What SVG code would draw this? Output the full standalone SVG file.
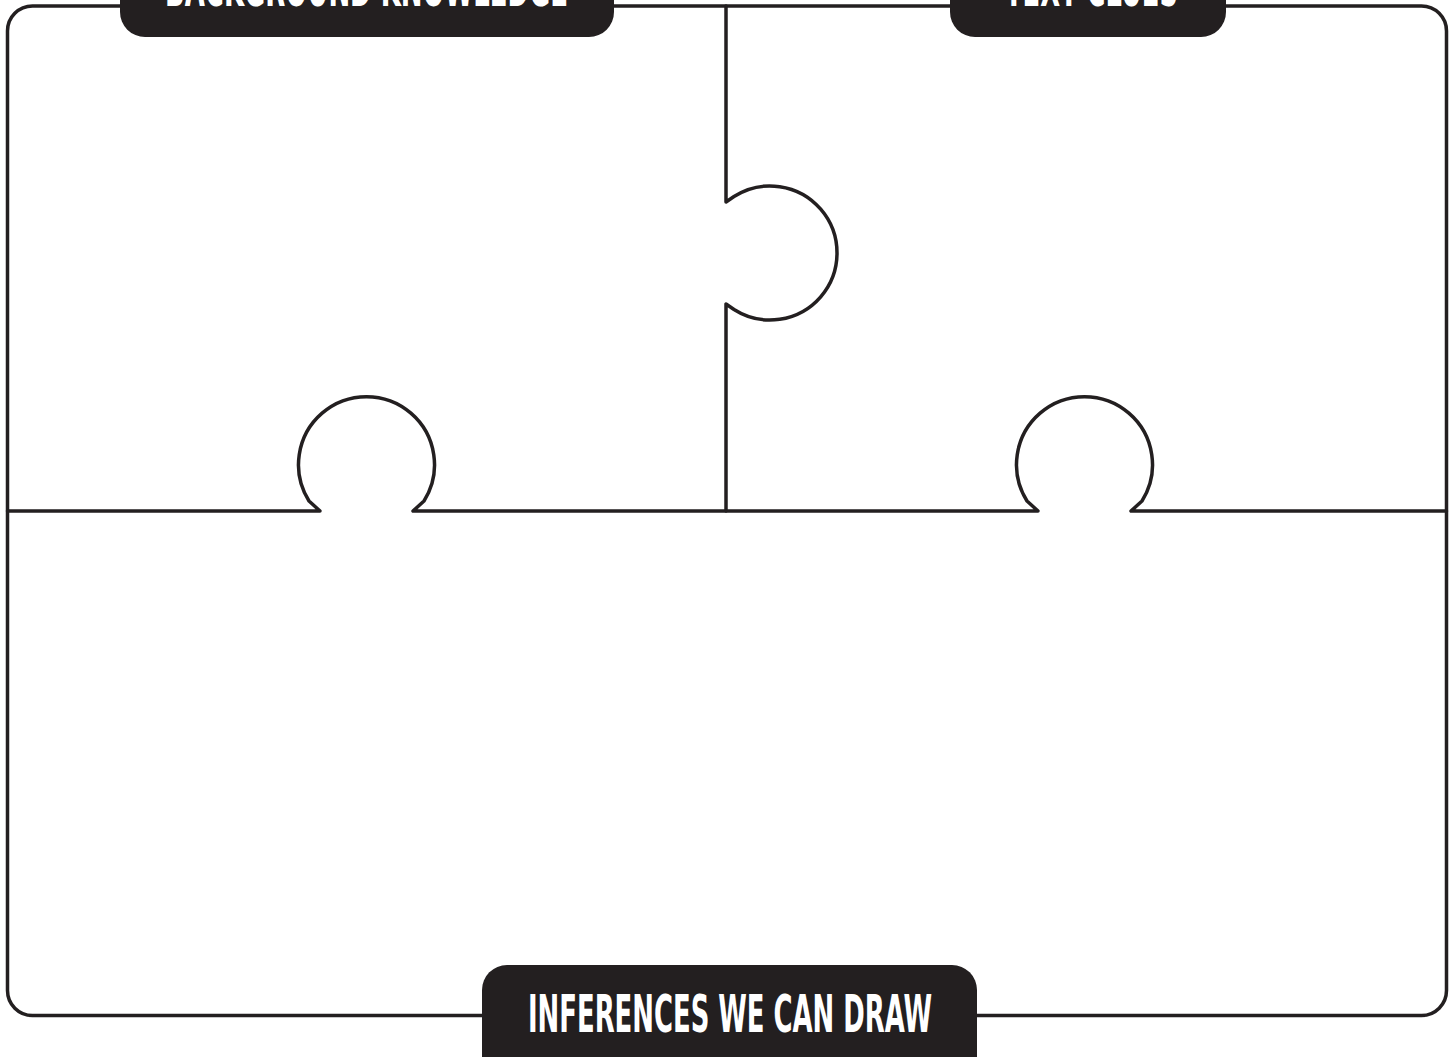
<svg xmlns="http://www.w3.org/2000/svg" width="1453" height="1057" viewBox="0 0 1453 1057">
<style>
.ln{fill:none;stroke:#231f20;stroke-width:3.5;stroke-linejoin:round;stroke-linecap:round}
.tag{fill:#231f20}
.lbl{fill:#ffffff;font-family:"DejaVu Sans Condensed","DejaVu Sans","Liberation Sans",sans-serif;font-weight:bold;font-size:52px;font-stretch:condensed}
</style>
<rect width="1453" height="1057" fill="#ffffff"/>
<g id="connectors">
<rect class="ln" x="7.5" y="6" width="1439" height="1009.5" rx="25" ry="25"/>
<path class="ln" d="M726,6 V202 L734,196.5 A67,67 0 1 1 734,309.5 L726,304 V511"/>
<path class="ln" d="M7.5,511 H320 L309,501 A68,68 0 1 1 424,501 L413,511 H1038 L1027,501 A68,68 0 1 1 1142,501 L1131,511 H1446.5"/>
</g>
<g id="node-background-knowledge">
<path class="tag" d="M120,-20 H614 V12 A25,25 0 0 1 589,37 H145 A25,25 0 0 1 120,12 Z"/>
<text class="lbl" x="165" y="6" textLength="403" lengthAdjust="spacingAndGlyphs">BACKGROUND KNOWLEDGE</text>
</g>
<g id="node-text-clues">
<path class="tag" d="M950,-20 H1226 V12 A25,25 0 0 1 1201,37 H975 A25,25 0 0 1 950,12 Z"/>
<text class="lbl" x="1005" y="6" textLength="173" lengthAdjust="spacingAndGlyphs">TEXT CLUES</text>
</g>
<g id="node-inferences">
<path class="tag" d="M482,1070 V990 A25,25 0 0 1 507,965 H952 A25,25 0 0 1 977,990 V1070 Z"/>
<text class="lbl" x="528" y="1032" textLength="404" lengthAdjust="spacingAndGlyphs">INFERENCES WE CAN DRAW</text>
</g>
</svg>
